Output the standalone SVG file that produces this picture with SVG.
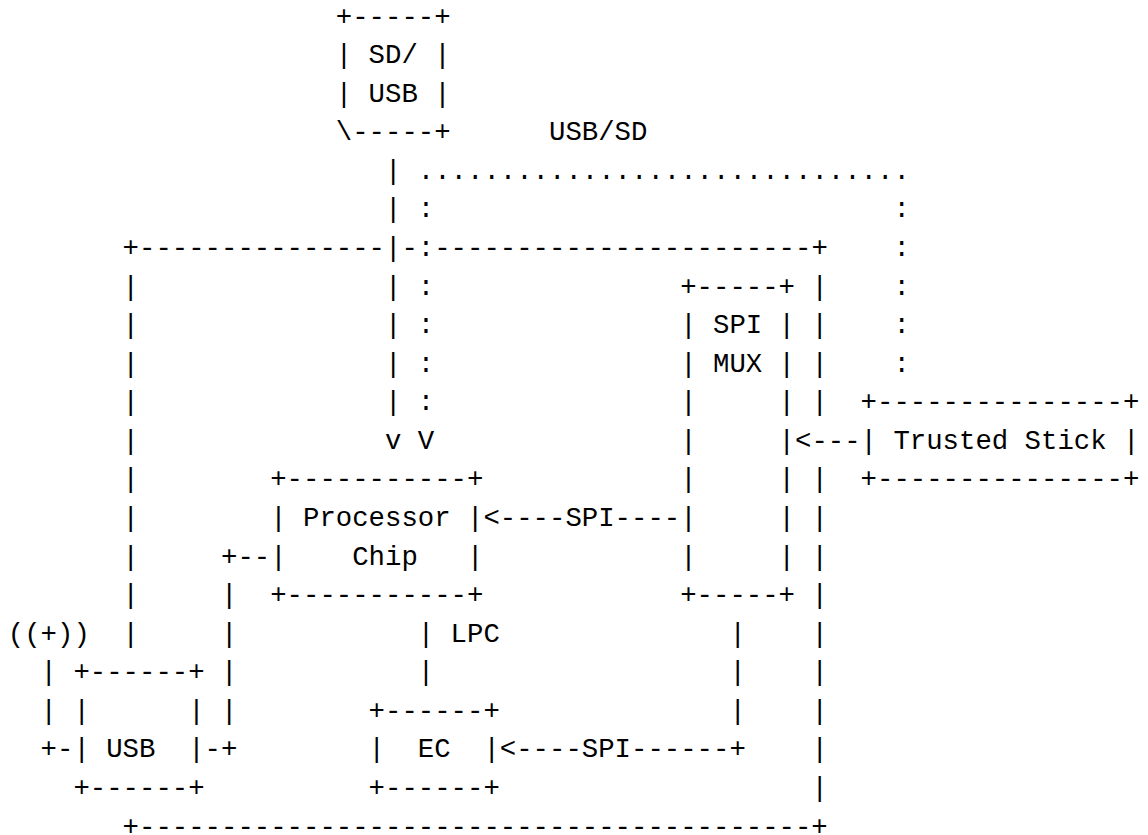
<svg xmlns="http://www.w3.org/2000/svg" width="1148" height="835" viewBox="0 0 1148 835" xml:space="preserve">
<style>
text { font-family: "Liberation Mono", "Courier New", monospace; font-size: 27.33px; fill: #000; white-space: pre; }
</style>
<rect x="0" y="0" width="1148" height="835" fill="#fff"/>
<g id="node-sd-usb">
<text x="335.8" y="24.5">+-----+</text>
<text x="335.8" y="63.1">| SD/ |</text>
<text x="335.8" y="101.6">| USB |</text>
<text x="335.8" y="140.2">\-----+</text>
</g>
<g id="node-board">
<text x="122.6" y="255.9">+---------------</text>
<text x="401.4" y="255.9">-</text>
<text x="434.2" y="255.9">-----------------------+</text>
<text x="122.6" y="294.5">|</text>
<text x="122.6" y="333.1">|</text>
<text x="122.6" y="371.6">|</text>
<text x="122.6" y="410.2">|</text>
<text x="122.6" y="448.8">|</text>
<text x="122.6" y="487.3">|</text>
<text x="122.6" y="525.9">|</text>
<text x="122.6" y="564.5">|</text>
<text x="122.6" y="603.1">|</text>
<text x="122.6" y="641.6">|</text>
<text x="811.4" y="294.5">|</text>
<text x="811.4" y="333.1">|</text>
<text x="811.4" y="371.6">|</text>
<text x="811.4" y="410.2">|</text>
<text x="811.4" y="487.3">|</text>
<text x="811.4" y="525.9">|</text>
<text x="811.4" y="564.5">|</text>
<text x="811.4" y="603.1">|</text>
<text x="811.4" y="641.6">|</text>
<text x="811.4" y="680.2">|</text>
<text x="811.4" y="718.8">|</text>
<text x="811.4" y="757.3">|</text>
<text x="811.4" y="795.9">|</text>
<text x="122.6" y="834.5">+-----------------------------------------+</text>
</g>
<g id="node-spi-mux">
<text x="680.2" y="294.5">+-----+</text>
<text x="680.2" y="333.1">| SPI |</text>
<text x="680.2" y="371.6">| MUX |</text>
<text x="680.2" y="410.2">|     |</text>
<text x="680.2" y="448.8">|     |</text>
<text x="680.2" y="487.3">|     |</text>
<text x="680.2" y="525.9">|     |</text>
<text x="680.2" y="564.5">|     |</text>
<text x="680.2" y="603.1">+-----+</text>
</g>
<g id="node-trusted-stick">
<text x="860.6" y="410.2">+---------------+</text>
<text x="860.6" y="448.8">| Trusted Stick |</text>
<text x="860.6" y="487.3">+---------------+</text>
</g>
<g id="node-processor">
<text x="270.2" y="487.3">+-----------+</text>
<text x="270.2" y="525.9">| Processor |</text>
<text x="270.2" y="564.5">|    Chip   |</text>
<text x="270.2" y="603.1">+-----------+</text>
</g>
<g id="node-ec">
<text x="368.6" y="718.8">+------+</text>
<text x="368.6" y="757.3">|  EC  |</text>
<text x="368.6" y="795.9">+------+</text>
</g>
<g id="node-usb">
<text x="73.4" y="680.2">+------+</text>
<text x="73.4" y="718.8">|      |</text>
<text x="73.4" y="757.3">| USB  |</text>
<text x="73.4" y="795.9">+------+</text>
</g>
<g id="node-antenna">
<text x="7.8" y="641.6">((+))</text>
</g>
<g id="connectors">
<text x="549.0" y="140.2">USB/SD</text>
<text x="385.0" y="178.8">|</text>
<text x="385.0" y="217.4">|</text>
<text x="385.0" y="255.9">|</text>
<text x="385.0" y="294.5">|</text>
<text x="385.0" y="333.1">|</text>
<text x="385.0" y="371.6">|</text>
<text x="385.0" y="410.2">|</text>
<text x="385.0" y="448.8">v</text>
<text x="417.8" y="178.8">..............................</text>
<text x="417.8" y="217.4">:</text>
<text x="417.8" y="255.9">:</text>
<text x="417.8" y="294.5">:</text>
<text x="417.8" y="333.1">:</text>
<text x="417.8" y="371.6">:</text>
<text x="417.8" y="410.2">:</text>
<text x="417.8" y="448.8">V</text>
<text x="893.4" y="217.4">:</text>
<text x="893.4" y="255.9">:</text>
<text x="893.4" y="294.5">:</text>
<text x="893.4" y="333.1">:</text>
<text x="893.4" y="371.6">:</text>
<text x="795.0" y="448.8">&lt;---</text>
<text x="483.4" y="525.9">&lt;----SPI----</text>
<text x="221.0" y="564.5">+--</text>
<text x="221.0" y="603.1">|</text>
<text x="221.0" y="641.6">|</text>
<text x="221.0" y="680.2">|</text>
<text x="221.0" y="718.8">|</text>
<text x="204.6" y="757.3">-+</text>
<text x="40.6" y="680.2">|</text>
<text x="40.6" y="718.8">|</text>
<text x="40.6" y="757.3">+-</text>
<text x="417.8" y="641.6">| LPC</text>
<text x="417.8" y="680.2">|</text>
<text x="729.4" y="641.6">|</text>
<text x="729.4" y="680.2">|</text>
<text x="729.4" y="718.8">|</text>
<text x="499.8" y="757.3">&lt;----SPI------+</text>
</g>
</svg>
